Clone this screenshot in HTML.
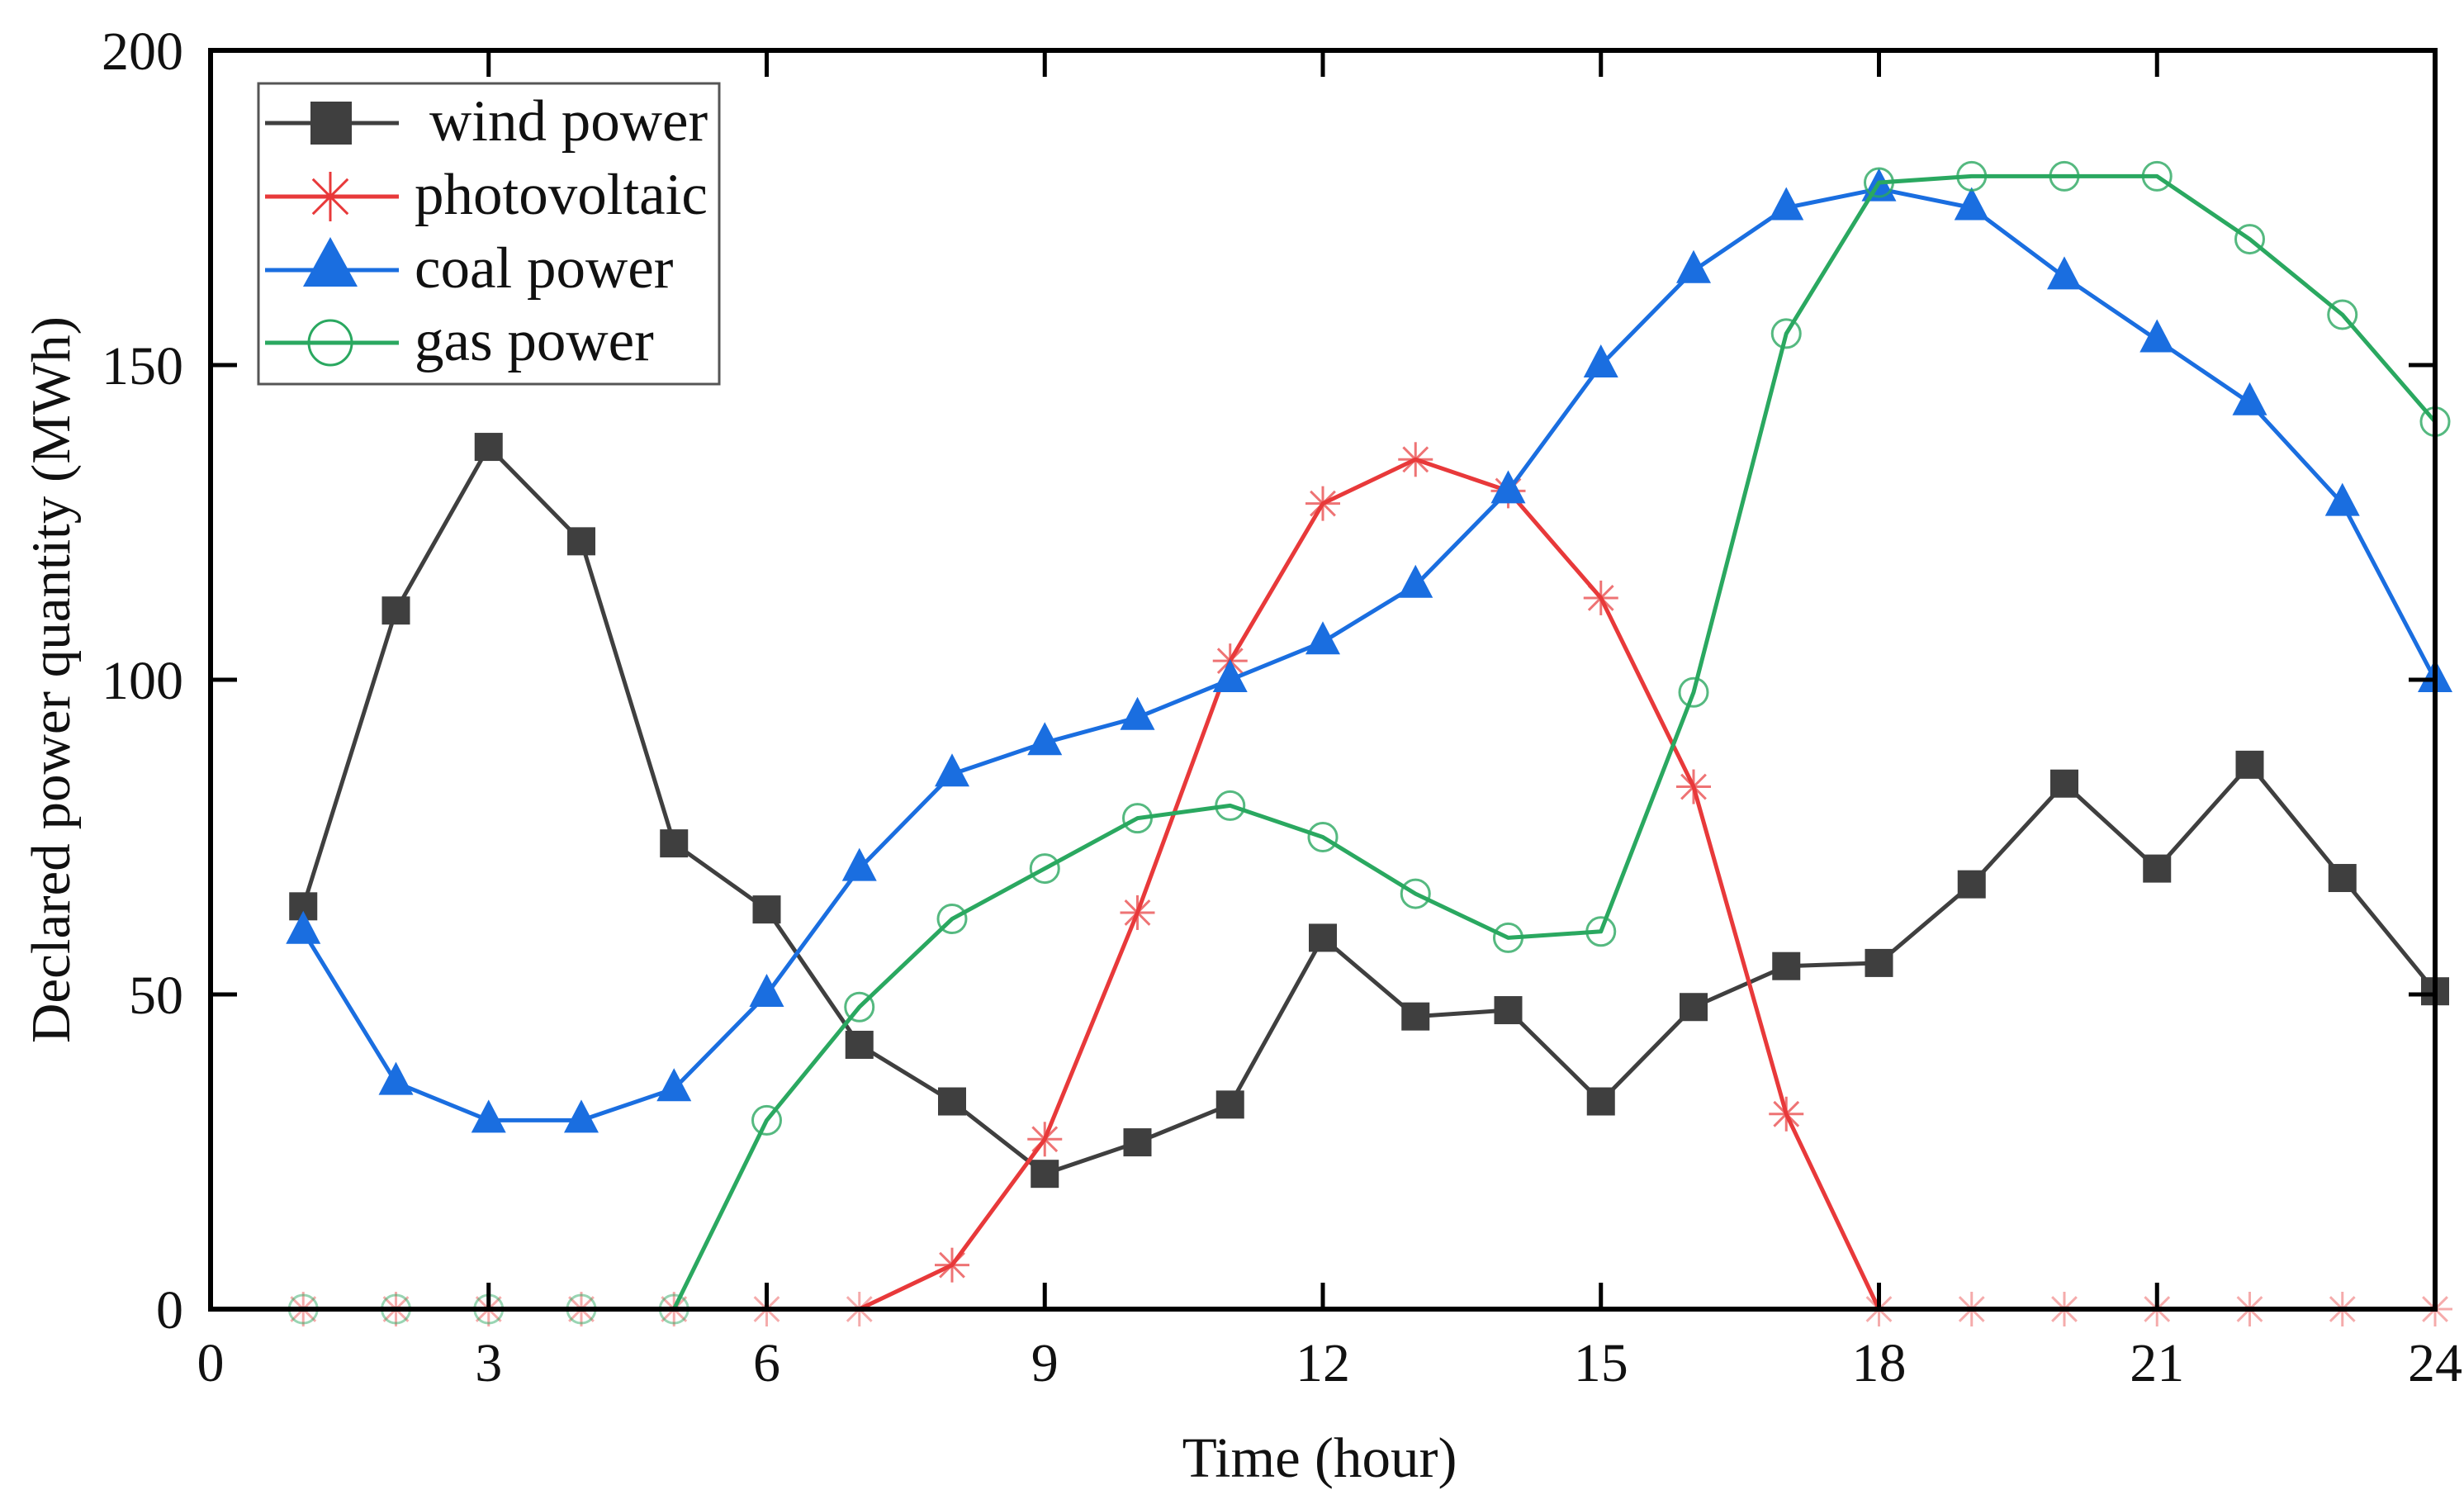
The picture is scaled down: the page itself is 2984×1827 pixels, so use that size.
<!DOCTYPE html>
<html><head><meta charset="utf-8"><style>
html,body{margin:0;padding:0;background:#fff}
svg text{font-family:"Liberation Serif",serif;fill:#111}
</style></head><body>
<svg id="chart" width="2984" height="1822" viewBox="0 0 2984 1822" xmlns="http://www.w3.org/2000/svg">
<g id="marks"></g>
<g id="axes"></g>
<g id="legend"></g>
<text x="1598" y="1788" font-size="69" text-anchor="middle">Time (hour)</text>
<text x="0" y="0" font-size="67" text-anchor="middle" transform="translate(84,823) rotate(-90)">Declared power quantity (MWh)</text>
</svg>
<script>
const hours = [1,2,3,4,5,6,7,8,9,10,11,12,13,14,15,16,17,18,19,20,21,22,23,24];
const windPower = [64,111,137,122,74,63.5,42,33,21.5,26.5,32.5,59,46.5,47.5,33,48,54.5,55,67.5,83.5,70,86.5,68.5,50.5];
const photovoltaic = [0,0,0,0,0,0,0,7,27,63,103,128,135,130,113,83,31,0,0,0,0,0,0,0];
const coalPower = [60,36,30,30,35,50,70,85,90,94,100,106,115,130,150,165,175,178,175,164,154,144,128,100];
const gasPower = [0,0,0,0,0,30,48,62,70,78,80,75,66,59,60,98,155,179,180,180,180,170,158,141];
const xTicks = [0,3,6,9,12,15,18,21,24];
const yTicks = [0,50,100,150,200];
const seriesNames = ["wind power","photovoltaic","coal power","gas power"];

const L=255,R=2949,T=61,B=1585;
const xs=v=>L+(v-0)/(24-0)*(R-L);
const ys=v=>B-(v-0)/(200-0)*(B-T);
const NS="http://www.w3.org/2000/svg";
function mk(tag,attrs,parent){const e=document.createElementNS(NS,tag);for(const k in attrs)e.setAttribute(k,attrs[k]);parent.appendChild(e);return e;}
const marks=document.getElementById('marks'),axes=document.getElementById('axes'),legend=document.getElementById('legend');

function marker(type,x,y,color,g,op){
  let e;
  if(type==='square'){e=mk('rect',{x:x-17,y:y-17,width:34,height:34,fill:color,opacity:op},g);}
  else if(type==='tri'){e=mk('polygon',{points:`${x},${y-25} ${x-21},${y+15} ${x+21},${y+15}`,fill:color,opacity:op},g);}
  else if(type==='circle'){e=mk('circle',{cx:x,cy:y,r:17,fill:'none',stroke:color,'stroke-width':3,opacity:op*0.8},g);}
  else {e=mk('g',{opacity:op*0.7},g);
    for(let a=0;a<180;a+=45){const r=a*Math.PI/180,dx=21*Math.cos(r),dy=21*Math.sin(r);
      mk('line',{x1:x-dx,y1:y-dy,x2:x+dx,y2:y+dy,stroke:color,'stroke-width':3},e);}}
  return e;
}
const series=[
  {name:'wind-power',vals:windPower,color:'#3f3f3f',type:'square'},
  {name:'photovoltaic',vals:photovoltaic,color:'#e8393a',type:'star'},
  {name:'coal-power',vals:coalPower,color:'#1a6ee0',type:'tri'},
  {name:'gas-power',vals:gasPower,color:'#2aa860',type:'circle'}
];
series.forEach(s=>{
  const g=mk('g',{},marks);
  
  
  const pl=mk('polyline',{points:hours.map((h,i)=>xs(h)+','+ys(s.vals[i])).join(' '),fill:'none',stroke:s.color,'stroke-width':5,'stroke-linejoin':'round'},g);
  
  
  hours.forEach((h,i)=>{
    const m=marker(s.type,xs(h),ys(s.vals[i]),s.color,g,s.vals[i]===0?0.6:1);
    
    
  });
});
const fr=mk('rect',{x:L,y:T,width:R-L,height:B-T,fill:'none',stroke:'#000','stroke-width':6},axes);


xTicks.forEach(v=>{
  const x=xs(v);
  mk('line',{x1:x,y1:B,x2:x,y2:B-32,stroke:'#000','stroke-width':5},axes);
  mk('line',{x1:x,y1:T,x2:x,y2:T+32,stroke:'#000','stroke-width':5},axes);
  const t=mk('text',{x:x,y:1672,'font-size':66,'text-anchor':'middle'},axes);
  t.textContent=v;
  
  
});
yTicks.forEach(v=>{
  const y=ys(v);
  mk('line',{x1:L,y1:y,x2:L+32,y2:y,stroke:'#000','stroke-width':5},axes);
  mk('line',{x1:R,y1:y,x2:R-32,y2:y,stroke:'#000','stroke-width':5},axes);
  const t=mk('text',{x:222,y:y+23,'font-size':66,'text-anchor':'end'},axes);
  t.textContent=v;
  
  
});
mk('rect',{x:313,y:101,width:558,height:364,fill:'#fff',stroke:'#555','stroke-width':3},legend);
const ly=[149,238,327,415];
series.forEach((s,i)=>{
  const g=mk('g',{},legend);
  
  
  mk('line',{x1:321,y1:ly[i],x2:483,y2:ly[i],stroke:s.color,'stroke-width':5},g);
  if(s.type==='square') mk('rect',{x:376,y:ly[i]-26,width:50,height:52,fill:s.color},g);
  else if(s.type==='tri') mk('polygon',{points:`400,${ly[i]-40} 367,${ly[i]+20} 433,${ly[i]+20}`,fill:s.color},g);
  else if(s.type==='circle') mk('ellipse',{cx:400,cy:ly[i],rx:26,ry:27,fill:'none',stroke:s.color,'stroke-width':3},g);
  else { for(let a=0;a<180;a+=45){const r=a*Math.PI/180,dx=30*Math.cos(r),dy=30*Math.sin(r);
      mk('line',{x1:400-dx,y1:ly[i]-dy,x2:400+dx,y2:ly[i]+dy,stroke:s.color,'stroke-width':3},g);} }
  const t=mk('text',{x:i===0?520:502,y:ly[i]+21,'font-size':71},g);
  t.textContent=seriesNames[i];
});
</script>
</body></html>
